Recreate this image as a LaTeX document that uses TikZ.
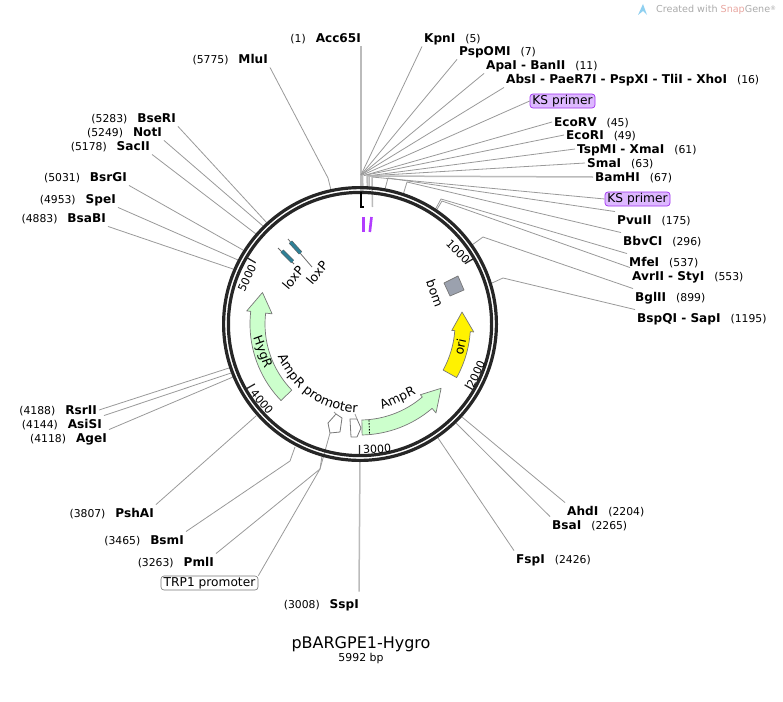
\documentclass[tikz,border=0pt]{standalone}
\usepackage{fontspec}
\setmainfont{DejaVu Sans}
\usetikzlibrary{decorations.text}
\definecolor{Ink}{HTML}{262626}
\definecolor{Leader}{HTML}{999999}
\definecolor{Heavy}{HTML}{BBBBBB}
\definecolor{Mint}{HTML}{CCFFCC}
\definecolor{Edge}{HTML}{777777}
\definecolor{Lilac}{HTML}{DDB8FF}
\definecolor{Violet}{HTML}{A030F0}
\definecolor{Orchid}{HTML}{B23CFF}
\definecolor{Slate}{HTML}{9BA1AE}
\definecolor{Lox}{HTML}{2F7F95}
\definecolor{Mark}{HTML}{AAAAAA}
\definecolor{Snap}{HTML}{E8A6A0}
\definecolor{Sky}{HTML}{8FD0F0}
\newcommand{\rsite}[2]{{\fontsize{12.1}{14}\bfseries #1}\hspace{10pt}(#2)}
\newcommand{\lsite}[2]{(#1)\hspace{10pt}{\fontsize{12.1}{14}\bfseries #2}}
% tail angle, base angle, tip angle, inner, outer, wing in, wing out (angles clockwise from top)
\newcommand{\featarrow}[8][]{
  \pgfmathsetmacro{\ta}{90-#2}\pgfmathsetmacro{\ba}{90-#3}\pgfmathsetmacro{\tp}{90-#4}
  \pgfmathsetmacro{\tr}{(#5+#6)/2}
  \draw[feat,#1] ([shift={(c)}]\ta:#5pt) arc[start angle=\ta,end angle=\ba,radius=#5pt]
    -- ([shift={(c)}]\ba:#7pt) -- ([shift={(c)}]\tp:\tr pt) -- ([shift={(c)}]\ba:#8pt)
    -- ([shift={(c)}]\ba:#6pt) arc[start angle=\ba,end angle=\ta,radius=#6pt] -- cycle;
}
\tikzset{
  site/.style={font=\fontsize{10.8}{13}\selectfont,inner sep=2pt,text height=10.5pt,text depth=2pt},
  siter/.style={site,anchor=west},
  sitel/.style={site,anchor=east},
  primerbox/.style={font=\fontsize{12.2}{14}\selectfont,fill=Lilac,draw=Violet,line width=.7pt,rounded corners=3pt,inner sep=1pt,minimum width=65pt,minimum height=14pt},
  promobox/.style={font=\fontsize{12.2}{14}\selectfont,fill=white,draw=Edge,line width=.6pt,rounded corners=3pt,inner sep=1pt,minimum width=97pt,minimum height=14pt},
  leader/.style={draw=Leader,line width=.8pt},
  heavy/.style={draw=Heavy,line width=1.5pt},
  ringline/.style={draw=Ink,line width=3.2pt},
  ticking/.style={draw=Ink,line width=1.3pt},
  ticklab/.style={font=\fontsize{11}{13}\selectfont,inner sep=0pt},
  feat/.style={fill=Mint,draw=Edge,line width=.7pt,line join=round},
  featlab/.style={font=\fontsize{12.5}{14}\selectfont,inner sep=0pt},
  primer/.style={draw=Orchid,line width=2.6pt},
  loxbody/.style={draw=Ink!75,double=Lox,double distance=3pt,line width=.6pt},
  loxpin/.style={draw=Ink!70,line width=.8pt},
  promo/.style={fill=white,draw=Edge,line width=.8pt,line join=round}
}
\begin{document}
\begin{tikzpicture}[x=1pt,y=-1pt]
  \useasboundingbox (0,0) rectangle (783,701);
  \coordinate (c) at (360,324);

  % hubs, elbows
  \coordinate (hubA) at (361,175);
  \coordinate (hubB) at (362.5,175);
  \coordinate (hubC) at (364,175.5);
  \coordinate (hubD) at (367,176);
  \coordinate (hubE) at (369,176);
  \coordinate (hubF) at (372,177);
  \coordinate (hubG) at (388,178);
  \coordinate (hubH) at (407,182);
  \coordinate (hubI) at (441,199);
  \coordinate (hubJ) at (442,201);
  \coordinate (hubK) at (483,237);
  \coordinate (hubL) at (503,278);
  \coordinate (hubM) at (290,461);
  \coordinate (hubN) at (320,469);

  % right labels
  \node[siter] (kpn) at (422,38) {\rsite{KpnI}{5}};
  \node[siter] (psp) at (457,51) {\rsite{PspOMI}{7}};
  \node[siter] (apa) at (484,65) {\rsite{ApaI - BanII}{11}};
  \node[siter] (abs) at (504,79) {\rsite{AbsI - PaeR7I - PspXI - TliI - XhoI}{16}};
  \node[primerbox] (ksa) at (562.5,101) {KS primer};
  \node[siter] (erv) at (552,122) {\rsite{EcoRV}{45}};
  \node[siter] (eri) at (564,135) {\rsite{EcoRI}{49}};
  \node[siter] (tsp) at (575,149) {\rsite{TspMI - XmaI}{61}};
  \node[siter] (sma) at (585,163) {\rsite{SmaI}{63}};
  \node[siter] (bam) at (593,177) {\rsite{BamHI}{67}};
  \node[primerbox] (ksb) at (637.5,199) {KS primer};
  \node[siter] (pvu) at (615,220) {\rsite{PvuII}{175}};
  \node[siter] (bbv) at (621,241) {\rsite{BbvCI}{296}};
  \node[siter] (mfe) at (627,262) {\rsite{MfeI}{537}};
  \node[siter] (avr) at (630,276) {\rsite{AvrII - StyI}{553}};
  \node[siter] (bgl) at (633,297) {\rsite{BglII}{899}};
  \node[siter] (bsq) at (635,318) {\rsite{BspQI - SapI}{1195}};
  \node[siter] (ahd) at (565,511) {\rsite{AhdI}{2204}};
  \node[siter] (bsa) at (550,525) {\rsite{BsaI}{2265}};
  \node[siter] (fsp) at (514,559) {\rsite{FspI}{2426}};

  % left labels
  \node[sitel] (acc) at (363,38) {\lsite{1}{Acc65I}};
  \node[sitel] (mlu) at (270,59) {\lsite{5775}{MluI}};
  \node[sitel] (bse) at (178,118) {\lsite{5283}{BseRI}};
  \node[sitel] (not) at (164,132) {\lsite{5249}{NotI}};
  \node[sitel] (sac) at (152,146) {\lsite{5178}{SacII}};
  \node[sitel] (bsr) at (129,177) {\lsite{5031}{BsrGI}};
  \node[sitel] (spe) at (118,199) {\lsite{4953}{SpeI}};
  \node[sitel] (bab) at (108,218) {\lsite{4883}{BsaBI}};
  \node[sitel] (rsr) at (99,410) {\lsite{4188}{RsrII}};
  \node[sitel] (asi) at (104,424) {\lsite{4144}{AsiSI}};
  \node[sitel] (age) at (109,438) {\lsite{4118}{AgeI}};
  \node[sitel] (psh) at (156,513) {\lsite{3807}{PshAI}};
  \node[sitel] (bsm) at (186,540) {\lsite{3465}{BsmI}};
  \node[sitel] (pml) at (216,562) {\lsite{3263}{PmlI}};
  \node[promobox] (trp) at (209.5,583) {TRP1 promoter};
  \node[sitel] (ssp) at (361,604) {\lsite{3008}{SspI}};

  % connectors
  \draw[heavy] ([xshift=-2pt]acc.south east) -- (hubA) -- (361,191);
  \draw[leader] (kpn.south west) -- (hubA);
  \draw[leader] (psp.south west) -- (hubA);
  \draw[leader] (apa.south west) -- (hubA);
  \draw[leader] (abs.south west) -- (hubA);
  \draw[leader] (ksa.west) -- (hubB);
  \draw[heavy] (hubB) -- (363,192);
  \draw[leader] (erv.west) -- (hubC);
  \draw[leader] (eri.west) -- (hubC);
  \draw[leader] (tsp.west) -- (hubD);
  \draw[leader] (sma.west) -- (hubD);
  \draw[heavy] (hubD) -- (367.5,190);
  \draw[heavy] (bam.west) -- (hubE) -- (369,190);
  \draw[leader] (ksb.west) -- (hubF);
  \draw[heavy] (hubF) -- (372.5,207);
  \draw[leader] (pvu.north west) -- (hubG) -- (385,189);
  \draw[leader] (bbv.north west) -- (hubH) -- (403,195);
  \draw[leader] (mfe.north west) -- (hubI) -- (435,210);
  \draw[leader] (avr.north west) -- (hubJ) -- (436,211);
  \draw[leader] (bgl.north west) -- (hubK) -- (472,245);
  \draw[leader] (bsq.north west) -- (hubL) -- (492,283);
  \draw[leader] (ahd.north west) -- (462,417);
  \draw[leader] (bsa.north west) -- (456,423);
  \draw[leader] (fsp.north west) -- (438,438);
  \draw[leader] (mlu.south east) -- (328,178) -- (331,190);
  \draw[leader] (bse.south east) -- (267,223);
  \draw[leader] (not.south east) -- (263,226);
  \draw[leader] (sac.south east) -- (256,234);
  \draw[leader] (bsr.south east) -- (243,250);
  \draw[leader] (spe.south east) -- (238,260);
  \draw[leader] (bab.south east) -- (233,269);
  \draw[leader] (rsr.east) -- (229,368);
  \draw[leader] (asi.north east) -- (231,373);
  \draw[leader] (age.north east) -- (233,377);
  \draw[leader] (psh.north east) -- (256,416);
  \draw[leader] (bsm.north east) -- (hubM) -- (295,447);
  \draw[leader] (pml.north east) -- (hubN) -- (322,456);
  \draw[leader] (trp.north east) -- (hubN) -- (330,433);
  \draw[heavy] ([xshift=-2pt,yshift=4pt]ssp.north east) -- (360,460);

  % ring
  \draw[ringline] (c) circle[radius=136.4pt];
  \draw[ringline] (c) circle[radius=131.6pt];
  \foreach \pos in {1000,2000,3000,4000,5000}{
    \pgfmathsetmacro{\ang}{90-\pos/5992*360}
    \draw[ticking] ([shift={(c)}]\ang:121pt) -- ([shift={(c)}]\ang:132pt);
  }
  \node[ticklab,rotate=-45] (kone) at (458,252) {1000};
  \node[ticklab,rotate=65] (ktwo) at (476,374) {2000};
  \node[ticklab,rotate=4] (kthree) at (377,449) {3000};
  \node[ticklab,rotate=-50] (kfour) at (262,402) {4000};
  \node[ticklab,rotate=65] (kfive) at (247,278) {5000};

  % origin mark and primers
  \draw[draw=black,line width=1.2pt] (361,192) -- (361,207) -- (363.5,207);
  \draw[primer] (363.5,217) -- (363.5,232);
  \draw[primer] (371.5,217) -- (369.8,232);

  % features
  \featarrow{178.9}{139.5}{128.4}{96}{111}{93}{117}
  \draw[draw=black,line width=.9pt,dash pattern=on 1.5pt off 1.5pt] (369,420) -- (369.5,434);
  \featarrow{225.9}{276.6}{287.9}{95}{110}{88.5}{114}
  \featarrow[fill=yellow]{119}{94}{83.3}{95}{110.5}{92}{114}
  \draw[feat,fill=Slate] (444,283) -- (458,276) -- (464,290) -- (450,296) -- cycle;
  \draw[loxpin] (278,248) -- (294,264);
  \draw[loxbody] (282,251) -- (292.5,261.5);
  \draw[loxpin] (288,239) -- (312,267);
  \draw[loxbody] (290.5,242) -- (300.5,253);
  \draw[promo] (350,419) -- (357,419) -- (361,428) -- (357,437) -- (351,437) -- cycle;
  \draw[promo] (328,423) -- (336,414) -- (342,418) -- (340,432) -- (330,433) -- cycle;
  \draw[leader] (357,419) -- (355,414);
  \draw[leader] (336,414) -- (334,412);

  % feature labels
  \node[featlab,rotate=25] (lamp) at (398,399) {AmpR};
  \node[featlab,rotate=-70] (lhyg) at (262,352) {HygR};
  \node[featlab,rotate=78] (lori) at (460,347) {ori};
  \node[featlab,rotate=-70] (lbom) at (435,293) {bom};
  \node[featlab,rotate=50] (lloxa) at (293,278) {loxP};
  \node[featlab,rotate=50] (lloxb) at (317,273) {loxP};
  \path[decorate,decoration={text along path,text align=center,
    text={|\fontsize{12.9}{14}\selectfont|AmpR promoter}}]
    ([shift={(c)}]-162:88.5pt) arc[start angle=-162,end angle=-88,radius=88.5pt];

  % title
  \node[font=\fontsize{16}{18}\selectfont,inner sep=0pt] (title) at (361,644) {pBARGPE1-Hygro};
  \node[font=\fontsize{10.9}{13}\selectfont,inner sep=0pt] (size) at (361,658) {5992 bp};

  % watermark
  \fill[Sky] (638,15) -- (643,4) -- (647,15) -- (643,11) -- cycle;
  \node[font=\fontsize{9.6}{12}\selectfont,anchor=west,inner sep=0pt,text=Mark] (stamp) at (656,10)
    {Created with \textcolor{Snap}{Snap}Gene\raisebox{2pt}{\fontsize{6}{8}\selectfont®}};
\end{tikzpicture}
\end{document}
